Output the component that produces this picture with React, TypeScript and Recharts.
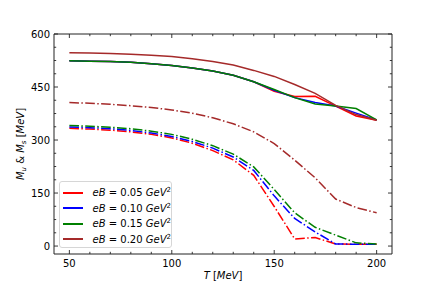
import { LineChart, Line, XAxis, YAxis, Legend, Label } from "recharts";

const temps = [50, 60, 70, 80, 90, 100, 110, 120, 130, 140, 150, 160, 170, 180, 190, 200];

// M_s (solid) and M_u (dash-dot) for each eB
const ms005 = [524, 523, 522, 520, 516, 511, 504, 495, 483, 465, 438, 423, 424, 396, 368, 356];
const ms010 = [524, 523, 522, 520, 516, 511, 504, 495, 483, 465, 441, 420, 406, 396, 376, 357];
const ms015 = [524, 523, 522, 520, 516, 511, 504, 495, 483, 465, 443, 420, 402, 396, 389, 357];
const ms020 = [547, 546, 545, 543, 540, 536, 530, 522, 512, 497, 480, 457, 432, 398, 372, 356];

const mu005 = [333, 331, 328, 323, 316, 306, 291, 270, 244, 200, 112, 20, 24, 6, 5, 5];
const mu010 = [337, 335, 332, 327, 320, 310, 296, 277, 252, 214, 142, 78, 40, 6, 5, 5];
const mu015 = [341, 339, 336, 332, 325, 316, 302, 284, 260, 224, 160, 94, 53, 31, 9, 6];
const mu020 = [406, 404, 401, 397, 392, 385, 376, 363, 346, 323, 290, 243, 193, 133, 109, 94];

const xTicks = [50, 60, 70, 80, 90, 100, 110, 120, 130, 140, 150, 160, 170, 180, 190, 200];
const xMajor = [50, 100, 150, 200];
const yTicks = [0, 37.5, 75, 112.5, 150, 187.5, 225, 262.5, 300, 337.5, 375, 412.5, 450, 487.5, 525, 562.5, 600];
const yMajor = [0, 150, 300, 450, 600];

const series = [
  { label: "0.05", color: "#ff0000", ms: ms005, mu: mu005 },
  { label: "0.10", color: "#0000ff", ms: ms010, mu: mu010 },
  { label: "0.15", color: "#008000", ms: ms015, mu: mu015 },
  { label: "0.20", color: "#a52a2a", ms: ms020, mu: mu020 },
];

const data = temps.map((t, i) => {
  const row: Record<string, number> = { t };
  series.forEach((s, k) => {
    row["ms" + k] = s.ms[i];
    row["mu" + k] = s.mu[i];
  });
  return row;
});

const FONT = "DejaVu Sans, sans-serif";
const AXIS = "#222";
const DASHDOT = "9.6 2.4 1.5 2.4";

function makeTick(side: "bottom" | "top" | "left" | "right", major: number[], labels: boolean) {
  return (props: any) => {
    const { x, y, payload } = props;
    const v = payload.value;
    const isMajor = major.includes(v);
    const len = isMajor ? 4 : 2.2;
    let line;
    if (side === "bottom") line = <line x1={x} x2={x} y1={y} y2={y - len} stroke={AXIS} strokeWidth={0.9} />;
    else if (side === "top") line = <line x1={x} x2={x} y1={y} y2={y + len} stroke={AXIS} strokeWidth={0.9} />;
    else if (side === "left") line = <line x1={x} x2={x + len} y1={y} y2={y} stroke={AXIS} strokeWidth={0.9} />;
    else line = <line x1={x} x2={x - len} y1={y} y2={y} stroke={AXIS} strokeWidth={0.9} />;
    return (
      <g>
        {line}
        {labels && isMajor && side === "bottom" && (
          <text x={x} y={y + 13} textAnchor="middle" fontSize={10} fontFamily={FONT} fill="#000">
            {v}
          </text>
        )}
        {labels && isMajor && side === "left" && (
          <text x={x - 4} y={y + 3.5} textAnchor="end" fontSize={10} fontFamily={FONT} fill="#000">
            {v}
          </text>
        )}
      </g>
    );
  };
}

function LegendBox() {
  return (
    <div
      style={{
        width: 113,
        height: 67,
        border: "1px solid #d6d6d6",
        borderRadius: 3,
        background: "rgba(255,255,255,0.8)",
        boxSizing: "border-box",
        paddingTop: 3,
        fontFamily: FONT,
        fontSize: 10,
      }}
    >
      {series.map((s) => (
        <div key={s.label} style={{ display: "flex", alignItems: "center", height: 15.5, whiteSpace: "nowrap" }}>
          <div style={{ width: 20, height: 1.6, background: s.color, marginLeft: 3, marginRight: 10 }} />
          <span>
            <i>eB</i> = {s.label} <i>GeV</i>
            <sup style={{ fontSize: 7, verticalAlign: 0, position: "relative", top: -4 }}>2</sup>
          </span>
        </div>
      ))}
    </div>
  );
}

export default function App() {
  return (
    <div style={{ position: "absolute", left: 0, top: 0, width: 436, height: 291, background: "#fff" }}>
      <LineChart width={436} height={291} data={data} margin={{ top: 33, right: 43, bottom: 0, left: 0 }}>
        <XAxis
          xAxisId="top"
          orientation="top"
          dataKey="t"
          type="number"
          domain={[42.5, 207.5]}
          ticks={xTicks}
          height={1}
          tickSize={0}
          tickMargin={0}
          tickLine={false}
          axisLine={{ stroke: AXIS, strokeWidth: 1 }}
          tick={makeTick("top", xMajor, false)}
          allowDataOverflow
          interval={0}
        />
        <XAxis
          dataKey="t"
          type="number"
          domain={[42.5, 207.5]}
          ticks={xTicks}
          height={37}
          tickSize={0}
          tickMargin={0}
          tickLine={false}
          axisLine={{ stroke: AXIS, strokeWidth: 1 }}
          tick={makeTick("bottom", xMajor, true)}
          allowDataOverflow
          interval={0}
        >
          <Label
            content={(p: any) => {
              const vb = p.viewBox;
              return (
                <text x={vb.x + vb.width / 2} y={vb.y + 25} textAnchor="middle" fontSize={10} fontFamily={FONT}>
                  <tspan fontStyle="italic">T</tspan> [<tspan fontStyle="italic">MeV</tspan>]
                </text>
              );
            }}
          />
        </XAxis>
        <YAxis
          type="number"
          domain={[-22.5, 600]}
          ticks={yTicks}
          width={54}
          tickSize={0}
          tickMargin={0}
          tickLine={false}
          axisLine={{ stroke: AXIS, strokeWidth: 1 }}
          tick={makeTick("left", yMajor, true)}
          allowDataOverflow
          interval={0}
        >
          <Label
            content={(p: any) => {
              const vb = p.viewBox;
              const cx = 24;
              const cy = vb.y + vb.height / 2;
              return (
                <text
                  x={cx}
                  y={cy}
                  transform={`rotate(-90 ${cx} ${cy})`}
                  textAnchor="middle"
                  fontSize={10}
                  fontFamily={FONT}
                >
                  <tspan fontStyle="italic">M</tspan>
                  <tspan fontStyle="italic" fontSize={7} dy={2}>u</tspan>
                  <tspan dy={-2}> &amp; </tspan>
                  <tspan fontStyle="italic">M</tspan>
                  <tspan fontStyle="italic" fontSize={7} dy={2}>s</tspan>
                  <tspan dy={-2}> [</tspan>
                  <tspan fontStyle="italic">MeV</tspan>
                  <tspan>]</tspan>
                </text>
              );
            }}
          />
        </YAxis>
        <YAxis
          yAxisId="right"
          orientation="right"
          type="number"
          domain={[-22.5, 600]}
          ticks={yTicks}
          width={1}
          tickSize={0}
          tickMargin={0}
          tickLine={false}
          axisLine={{ stroke: AXIS, strokeWidth: 1 }}
          tick={makeTick("right", yMajor, false)}
          allowDataOverflow
          interval={0}
        />
        {series.map((s, k) => [
          <Line
            key={"mu" + k}
            dataKey={"mu" + k}
            stroke={s.color}
            strokeWidth={1.5}
            strokeDasharray={DASHDOT}
            dot={false}
            type="linear"
            isAnimationActive={false}
          />,
          <Line
            key={"ms" + k}
            dataKey={"ms" + k}
            stroke={s.color}
            strokeWidth={1.5}
            dot={false}
            type="linear"
            isAnimationActive={false}
          />,
        ])}
        <Legend
          layout="vertical"
          align="center"
          verticalAlign="middle"
          wrapperStyle={{ position: "absolute", left: 59, top: 181, width: 113, height: 67 }}
          content={() => <LegendBox />}
        />
      </LineChart>
    </div>
  );
}
